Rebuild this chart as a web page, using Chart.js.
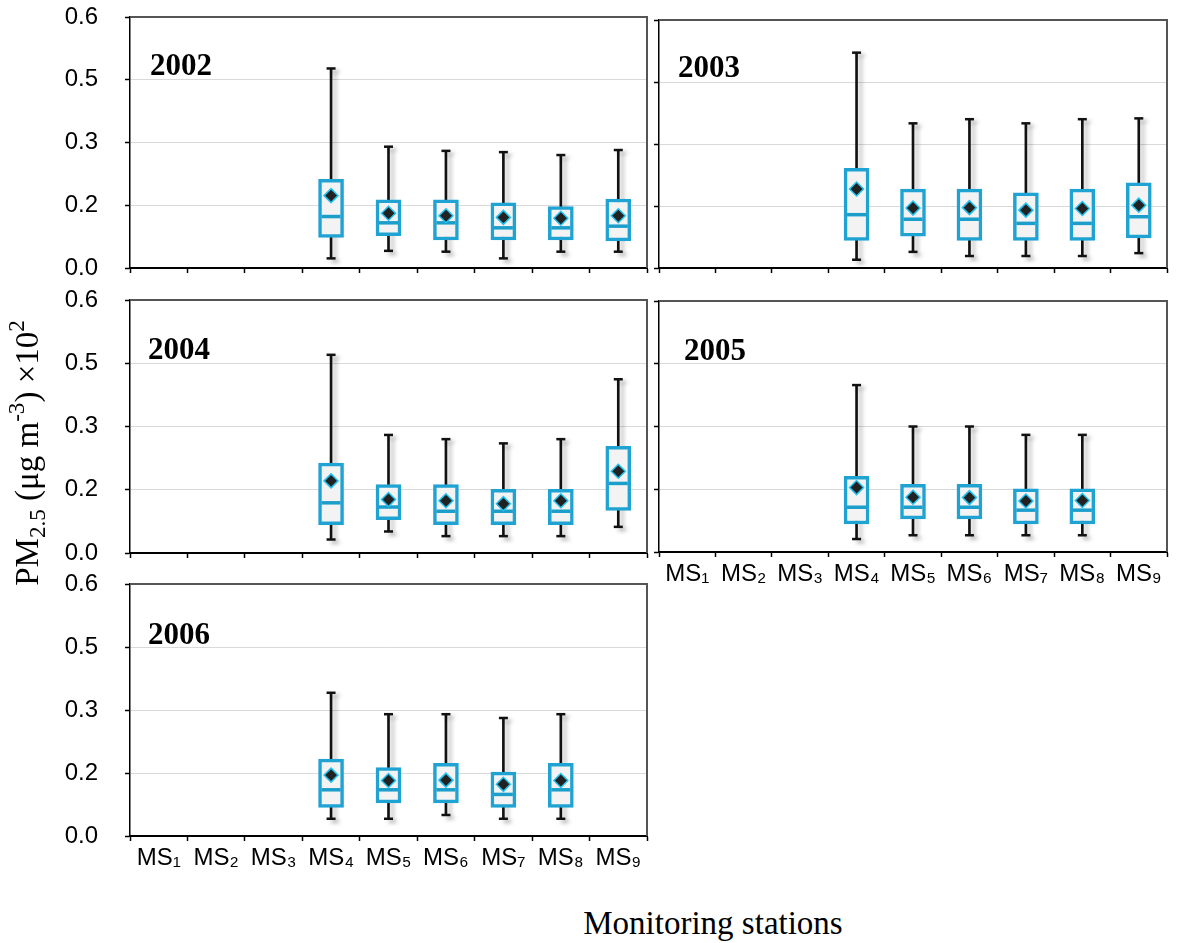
<!DOCTYPE html>
<html><head><meta charset="utf-8">
<script src="https://cdn.jsdelivr.net/npm/chart.js@4.4.1/dist/chart.umd.min.js"></script>
<style>
html,body{margin:0;padding:0;background:#fff;}
body{width:1180px;height:943px;position:relative;overflow:hidden;}
canvas{position:absolute;}
.title{position:absolute;font-family:'Liberation Serif','Times New Roman',serif;font-size:33px;color:#000;white-space:nowrap;text-align:center;line-height:40px;height:40px;}
.title sub,.title sup{font-size:0.7em;line-height:0;}
.title sub{vertical-align:-0.3em;}
.title sup{vertical-align:0.6em;}
</style></head><body>
<canvas id="c2002" width="660" height="290" style="left:0;top:0"></canvas>
<canvas id="c2003" width="650" height="290" style="left:530px;top:0"></canvas>
<canvas id="c2004" width="660" height="300" style="left:0;top:280px"></canvas>
<canvas id="c2005" width="650" height="330" style="left:530px;top:280px"></canvas>
<canvas id="c2006" width="660" height="330" style="left:0;top:560px"></canvas>
<div class="title" style="left:-173px;top:433px;width:400px;transform:rotate(-90deg)">PM<sub>2.5</sub> (μg m<sup>-3</sup>) ×10<sup>2</sup></div>
<div class="title" style="left:513px;top:903px;width:400px">Monitoring stations</div>
<script>
// ---- data ----
const categories = ['MS₁','MS₂','MS₃','MS₄','MS₅','MS₆','MS₇','MS₈','MS₉'];
const yTickValues = [0, 0.15, 0.3, 0.45, 0.6];
const yTickLabels = ['0.0','0.2','0.3','0.5','0.6'];
const years = ['2002','2003','2004','2005','2006'];

const min2002    = [null,null,null,0.023,0.041,0.039,0.023,0.039,0.039];
const q1_2002    = [null,null,null,0.073,0.077,0.067,0.067,0.067,0.065];
const median2002 = [null,null,null,0.123,0.108,0.108,0.096,0.096,0.100];
const q3_2002    = [null,null,null,0.212,0.163,0.163,0.156,0.147,0.165];
const max2002    = [null,null,null,0.477,0.290,0.280,0.277,0.270,0.282];
const mean2002   = [null,null,null,0.173,0.131,0.125,0.121,0.119,0.125];

const min2003    = [null,null,null,0.020,0.039,0.029,0.029,0.029,0.036];
const q1_2003    = [null,null,null,0.067,0.077,0.067,0.067,0.067,0.073];
const median2003 = [null,null,null,0.129,0.118,0.118,0.108,0.108,0.124];
const q3_2003    = [null,null,null,0.241,0.191,0.191,0.182,0.191,0.206];
const max2003    = [null,null,null,0.521,0.350,0.360,0.350,0.360,0.362];
const mean2003   = [null,null,null,0.191,0.145,0.146,0.140,0.144,0.152];

const min2004    = [null,null,null,0.032,0.051,0.040,0.040,0.040,0.062];
const q1_2004    = [null,null,null,0.067,0.079,0.067,0.067,0.067,0.101];
const median2004 = [null,null,null,0.119,0.109,0.099,0.099,0.099,0.165];
const q3_2004    = [null,null,null,0.213,0.162,0.162,0.151,0.151,0.253];
const max2004    = [null,null,null,0.470,0.280,0.270,0.260,0.270,0.412];
const mean2004   = [null,null,null,0.171,0.127,0.124,0.117,0.124,0.194];

const min2005    = [null,null,null,0.031,0.040,0.040,0.040,0.040,null];
const q1_2005    = [null,null,null,0.067,0.079,0.079,0.067,0.067,null];
const median2005 = [null,null,null,0.107,0.107,0.107,0.100,0.100,null];
const q3_2005    = [null,null,null,0.181,0.162,0.162,0.151,0.151,null];
const max2005    = [null,null,null,0.399,0.300,0.300,0.280,0.280,null];
const mean2005   = [null,null,null,0.154,0.131,0.130,0.122,0.123,null];

const min2006    = [null,null,null,0.041,0.041,0.050,0.041,0.041,null];
const q1_2006    = [null,null,null,0.068,0.079,0.079,0.068,0.068,null];
const median2006 = [null,null,null,0.110,0.110,0.110,0.099,0.110,null];
const q3_2006    = [null,null,null,0.183,0.163,0.173,0.152,0.173,null];
const max2006    = [null,null,null,0.341,0.290,0.290,0.281,0.290,null];
const mean2006   = [null,null,null,0.145,0.132,0.133,0.123,0.132,null];

// ---- layout of panels ----
const panels = [
  {id:'c2002', year:years[0], s:{min:min2002,q1:q1_2002,med:median2002,q3:q3_2002,max:max2002,mean:mean2002}, showX:false, showY:true,  padTop:17, padRight:13, yW:130, xH:22, lx:20, ly:58},
  {id:'c2003', year:years[1], s:{min:min2003,q1:q1_2003,med:median2003,q3:q3_2003,max:max2003,mean:mean2003}, showX:false, showY:false, padTop:20, padRight:10, yW:129, xH:22, lx:19, ly:57},
  {id:'c2004', year:years[2], s:{min:min2004,q1:q1_2004,med:median2004,q3:q3_2004,max:max2004,mean:mean2004}, showX:false, showY:true,  padTop:20, padRight:13, yW:130, xH:27, lx:18, ly:59},
  {id:'c2005', year:years[3], s:{min:min2005,q1:q1_2005,med:median2005,q3:q3_2005,max:max2005,mean:mean2005}, showX:true,  showY:false, padTop:21, padRight:10, yW:129, xH:58, lx:25, ly:59},
  {id:'c2006', year:years[4], s:{min:min2006,q1:q1_2006,med:median2006,q3:q3_2006,max:max2006,mean:mean2006}, showX:true,  showY:true,  padTop:24, padRight:13, yW:130, xH:54, lx:18, ly:60}
];

const framePlugin = {
  id:'frame',
  afterDraw(chart, args, opts){
    const a = chart.chartArea, ctx = chart.ctx;
    ctx.save();
    ctx.strokeStyle = '#555';
    ctx.lineWidth = 2;
    ctx.beginPath();
    ctx.moveTo(a.left, a.top); ctx.lineTo(a.right, a.top); ctx.lineTo(a.right, a.bottom);
    ctx.stroke();
    ctx.font = 'bold 31px "Liberation Serif", "Times New Roman", serif';
    ctx.fillStyle = '#000';
    ctx.textBaseline = 'alphabetic';
    ctx.textAlign = 'left';
    ctx.fillText(opts.year, a.left + opts.lx, a.top + opts.ly);
    ctx.restore();
  }
};
const shadowPlugin = {
  id:'shadow',
  beforeDatasetDraw(chart, args){
    if (args.index <= 2) {
      const ctx = chart.ctx;
      ctx.shadowColor = 'rgba(0,0,0,0.28)';
      ctx.shadowBlur = 4;
      ctx.shadowOffsetX = 4;
      ctx.shadowOffsetY = 3;
    }
  },
  afterDatasetDraw(chart){
    const ctx = chart.ctx;
    ctx.shadowColor = 'rgba(0,0,0,0)';
    ctx.shadowBlur = 0; ctx.shadowOffsetX = 0; ctx.shadowOffsetY = 0;
  }
};

function boxFill(c){
  const el = c.element;
  if (!el || el.x === undefined || isNaN(el.x)) return '#f3f3f3';
  const g = c.chart.ctx.createLinearGradient(el.x - 12, 0, el.x + 12, 0);
  g.addColorStop(0, '#ffffff');
  g.addColorStop(0.6, '#f4f4f4');
  g.addColorStop(1, '#dcdcdc');
  return g;
}

function build(p){
  const s = p.s;
  const box = s.q1.map((v,i)=> v==null ? null : [v, s.q3[i]]);
  const whisk = s.min.map((v,i)=> v==null ? null : [v, s.max[i]]);
  const capCommon = {type:'line', showLine:false, pointStyle:'line', pointRadius:4.5, pointBorderWidth:2.5, pointBorderColor:'#111', pointBackgroundColor:'#111'};
  new Chart(document.getElementById(p.id), {
    type:'bar',
    data:{labels:categories, datasets:[
      {type:'bar', data:whisk, backgroundColor:'#111', borderWidth:0, barThickness:2, grouped:false, order:6},
      Object.assign({data:s.max, order:5}, capCommon),
      Object.assign({data:s.min, order:4}, capCommon),
      {type:'bar', data:box, backgroundColor:boxFill, borderColor:'#1fa3d3', borderWidth:3.5, borderSkipped:false, barThickness:25, grouped:false, order:3},
      {type:'line', data:s.med, showLine:false, pointStyle:'line', pointRadius:9.5, pointBorderWidth:3.5, pointBorderColor:'#1c9ecb', order:2},
      {type:'line', data:s.mean, showLine:false, pointStyle:'rectRot', pointRadius:7, pointBackgroundColor:'#222', pointBorderColor:'#1fc3f2', pointBorderWidth:1.5, order:1}
    ]},
    options:{
      responsive:false, animation:false, events:[],
      layout:{padding:{top:p.padTop, right:p.padRight, left:0, bottom:0}},
      plugins:{legend:{display:false}, tooltip:{enabled:false}, frame:{year:p.year, lx:p.lx, ly:p.ly}},
      scales:{
        x:{type:'category', offset:true,
          grid:{offset:true, drawOnChartArea:false, drawTicks:true, tickLength:5, tickColor:'#000', tickWidth:1.5},
          border:{color:'#000', width:2},
          ticks:{display:p.showX, autoSkip:false, maxRotation:0, color:'#000', padding:3, font:{family:'"Liberation Sans", Arial, sans-serif', size:24}},
          afterFit(sc){ sc.height = p.xH; sc.paddingLeft = 0; sc.paddingRight = 0; }
        },
        y:{min:0, max:0.6,
          afterBuildTicks(sc){ sc.ticks = yTickValues.map(v=>({value:v})); },
          grid:{color:(c)=> (c.tick && (c.tick.value===0 || c.tick.value===0.6)) ? 'rgba(0,0,0,0)' : '#d9d9d9', lineWidth:1, tickColor:'#000', tickLength:5, tickWidth:1.5},
          border:{color:'#000', width:1.5},
          ticks:{display:p.showY, callback:(v,i)=>yTickLabels[i], color:'#000', padding:27, font:{family:'"Liberation Sans", Arial, sans-serif', size:24}},
          afterFit(sc){ sc.width = p.yW; sc.paddingTop = 0; sc.paddingBottom = 0; }
        }
      }
    },
    plugins:[framePlugin, shadowPlugin]
  });
}
panels.forEach(build);
</script>
</body></html>
